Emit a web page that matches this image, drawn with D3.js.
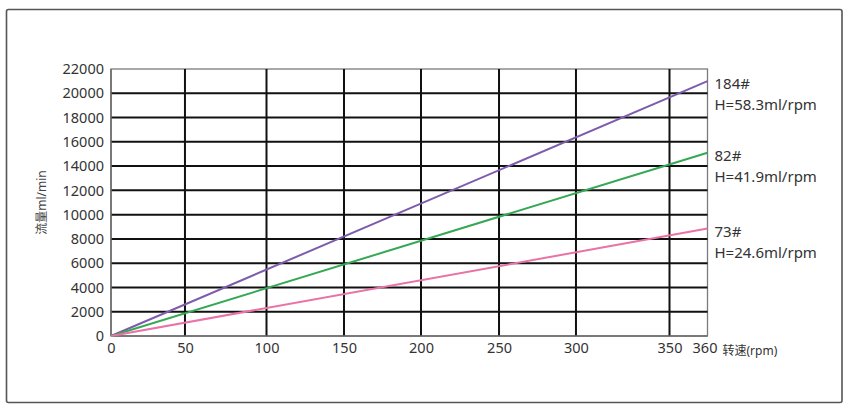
<!DOCTYPE html>
<html>
<head>
<meta charset="utf-8">
<script src="https://cdn.jsdelivr.net/npm/d3@7"></script>
<style>
  html, body { margin: 0; padding: 0; background: #fff; }
  svg { display: block; font-family: "Noto Sans", "Noto Sans CJK SC", sans-serif; }
</style>
</head>
<body>
<svg id="chart" width="854" height="414"></svg>
<script>
// ---- data ----
const rpm = [0, 360];
const flow184 = [0, 21000];
const flow82 = [0, 15100];
const flow73 = [0, 8850];
const seriesNames = ["184#", "82#", "73#"];
const seriesNotes = ["H=58.3ml/rpm", "H=41.9ml/rpm", "H=24.6ml/rpm"];
const xTicks = [0, 50, 100, 150, 200, 250, 300, 350, 360];
const yTicks = [0, 2000, 4000, 6000, 8000, 10000, 12000, 14000, 16000, 18000, 20000, 22000];
const yLabel = "流量ml/min";
const xLabel = "转速(rpm)";

(function () {
// ---- layout ----
const svg = d3.select("#chart");
const pL = 111, pR = 707.5, pT = 69, pB = 336;
const W = pR - pL;
// the original grid is not evenly spaced; keep its spacing as fractions of the width
const gridFrac = [0, 0.124, 0.2607, 0.3906, 0.5197, 0.6505, 0.7795, 0.9363, 1];

const x = d3.scaleLinear().domain(xTicks).range(gridFrac.map(f => pL + f * W));
const y = d3.scaleLinear().domain([0, 22000]).range([pB, pT]);

// outer frame
svg.append("rect")
  .attr("x", 6.5).attr("y", 9.5).attr("width", 835.5).attr("height", 393)
  .attr("rx", 2)
  .attr("fill", "none").attr("stroke", "#555").attr("stroke-width", 1.6);

// plot frame
svg.append("rect")
  .attr("x", pL).attr("y", pT).attr("width", W).attr("height", pB - pT)
  .attr("fill", "none").attr("stroke", "#7a7a7a").attr("stroke-width", 1.3);

// grid
const g = svg.append("g");
g.selectAll("line.h").data(yTicks.filter(v => v > 0 && v < 22000)).join("line")
  .attr("class", "h")
  .attr("x1", pL).attr("x2", pR)
  .attr("y1", d => y(d)).attr("y2", d => y(d))
  .attr("stroke", "#111").attr("stroke-width", 2);
g.selectAll("line.v").data(xTicks.filter(v => v > 0 && v < 360)).join("line")
  .attr("class", "v")
  .attr("y1", pT).attr("y2", pB)
  .attr("x1", d => x(d)).attr("x2", d => x(d))
  .attr("stroke", "#111").attr("stroke-width", 2);

// axes (labels only)
const yAxis = d3.axisLeft(y).tickValues(yTicks).tickSize(0).tickPadding(7).tickFormat(d3.format("d"));
const ya = svg.append("g").attr("transform", `translate(${pL},0)`).call(yAxis);
ya.select(".domain").remove();
ya.selectAll("text").attr("font-size", 14.5).attr("fill", "#333").attr("font-family", "Noto Sans");

const xAxis = d3.axisBottom(x).tickValues(xTicks).tickSize(0).tickPadding(7).tickFormat(d3.format("d"));
const xa = svg.append("g").attr("transform", `translate(0,${pB})`).call(xAxis);
xa.select(".domain").remove();
xa.selectAll("text").attr("font-size", 14.5).attr("fill", "#333").attr("font-family", "Noto Sans");
xa.selectAll(".tick").filter(d => d === 360).select("text").attr("dx", -3);

// redraw frame left & bottom in gray on top
svg.append("line").attr("x1", pL).attr("x2", pL).attr("y1", pT).attr("y2", pB)
  .attr("stroke", "#6a6a6a").attr("stroke-width", 1.5);
svg.append("line").attr("x1", pL).attr("x2", pR).attr("y1", pB).attr("y2", pB)
  .attr("stroke", "#6a6a6a").attr("stroke-width", 1.5);

// axis titles
svg.append("text").attr("x", x(360) + 15).attr("y", pB + 19)
  .attr("font-size", 12).attr("fill", "#333").text(xLabel);
svg.append("text")
  .attr("transform", `translate(46,${(pT + pB) / 2}) rotate(-90)`)
  .attr("text-anchor", "middle").attr("font-size", 12).attr("fill", "#444").text(yLabel);

// series
const colors = ["#7d5cab", "#34a853", "#ea72a6"];
const series = [flow184, flow82, flow73];
const line = d3.line().x(d => x(d[0])).y(d => y(d[1]));
series.forEach((vals, i) => {
  const pts = rpm.map((r, k) => [r, vals[k]]);
  svg.append("path").datum(pts).attr("d", line)
    .attr("fill", "none").attr("stroke", colors[i]).attr("stroke-width", 2);
  const endY = y(vals[vals.length - 1]);
  const lx = x(360) + 7;
  svg.append("text").attr("x", lx).attr("y", endY + 8)
    .attr("font-size", 15).attr("fill", "#333").text(seriesNames[i]);
  svg.append("text").attr("x", lx).attr("y", endY + 29)
    .attr("font-size", 15).attr("fill", "#333").text(seriesNotes[i]);
});
})();
</script>
</body>
</html>
